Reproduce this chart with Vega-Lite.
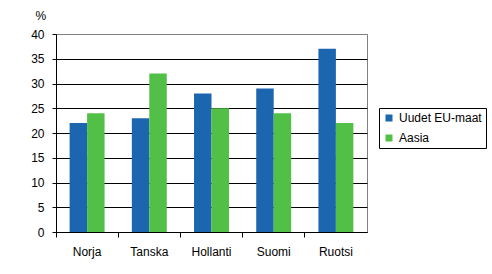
{
  "$schema": "https://vega.github.io/schema/vega-lite/v6.json",
  "autosize": {"type": "none"},
  "padding": {"left": 56, "top": 34, "right": 125, "bottom": 42},
  "width": 311,
  "height": 198,
  "background": "white",
  "config": {
    "font": "Liberation Sans",
    "view": {"stroke": "#808080", "strokeWidth": 1}
  },
  "data": {
    "values": [
      {"maa": "Norja", "ryhma": "Uudet EU-maat", "arvo": 22},
      {"maa": "Norja", "ryhma": "Aasia", "arvo": 24},
      {"maa": "Tanska", "ryhma": "Uudet EU-maat", "arvo": 23},
      {"maa": "Tanska", "ryhma": "Aasia", "arvo": 32},
      {"maa": "Hollanti", "ryhma": "Uudet EU-maat", "arvo": 28},
      {"maa": "Hollanti", "ryhma": "Aasia", "arvo": 25},
      {"maa": "Suomi", "ryhma": "Uudet EU-maat", "arvo": 29},
      {"maa": "Suomi", "ryhma": "Aasia", "arvo": 24},
      {"maa": "Ruotsi", "ryhma": "Uudet EU-maat", "arvo": 37},
      {"maa": "Ruotsi", "ryhma": "Aasia", "arvo": 22}
    ]
  },
  "mark": {"type": "bar"},
  "encoding": {
    "x": {
      "field": "maa", "type": "nominal", "sort": null,
      "scale": {"paddingInner": 0, "paddingOuter": 0},
      "axis": {
        "title": null, "labelAngle": 0, "labelFontSize": 12, "labelColor": "black",
        "labelPadding": 9, "tickSize": 5, "tickColor": "black", "domainColor": "black",
        "bandPosition": 0, "grid": false
      }
    },
    "xOffset": {
      "field": "ryhma", "type": "nominal", "sort": ["Uudet EU-maat", "Aasia"],
      "scale": {"paddingInner": 0, "paddingOuter": 0.78}
    },
    "y": {
      "field": "arvo", "type": "quantitative",
      "scale": {"domain": [0, 40], "nice": false},
      "axis": {
        "title": "%", "titleAngle": 0, "titleAlign": "left", "titleBaseline": "alphabetic",
        "titleX": -21, "titleY": -15, "titleFontSize": 12, "titleFontWeight": "normal", "titleColor": "black",
        "values": [0, 5, 10, 15, 20, 25, 30, 35, 40],
        "labelFontSize": 12, "labelColor": "black", "labelPadding": 8,
        "tickSize": 4, "tickColor": "black", "domainColor": "black",
        "grid": true,
        "gridColor": {"condition": {"test": "datum.value === 40", "value": "#808080"}, "value": "black"},
        "gridOpacity": 1
      }
    },
    "color": {
      "field": "ryhma", "type": "nominal", "sort": ["Uudet EU-maat", "Aasia"],
      "scale": {"domain": ["Uudet EU-maat", "Aasia"], "range": ["#1C66B0", "#52BF46"]},
      "legend": {
        "title": null, "orient": "none", "legendX": 323, "legendY": 74,
        "symbolType": "square", "symbolSize": 49, "symbolStrokeWidth": 0,
        "labelFontSize": 12, "labelColor": "black", "labelOffset": 4,
        "padding": 4, "rowPadding": 8,
        "strokeColor": "black", "fillColor": "white"
      }
    }
  }
}
